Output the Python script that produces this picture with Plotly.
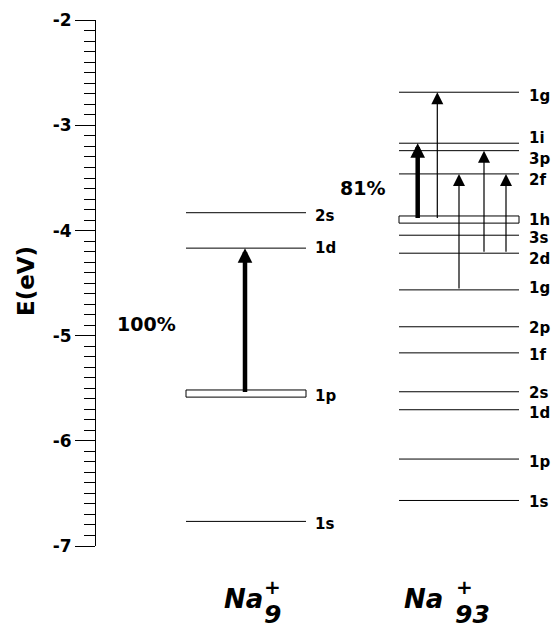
import plotly.graph_objects as go

# ---------------- data ----------------
na9_levels = ['1s', '1p', '1d', '2s']
na9_energy = [-6.766, -5.55, -4.167, -3.83]
na9_broad = ['1p']                      # drawn as a box (partly filled shell)
na9_transitions = [('1p', '1d', 'thick')]
na9_percent = '100%'

na93_levels = ['1s', '1p', '1d', '2s', '1f', '2p', '1g', '2d', '3s', '1h', '2f', '3p', '1i', '1g*']
na93_energy = [-6.567, -6.173, -5.704, -5.533, -5.163, -4.915, -4.564, -4.215, -4.044, -3.895,
               -3.461, -3.240, -3.169, -2.684]
na93_broad = ['1h']
na93_transitions = [('1h', '1i', 'thick'), ('1h', '1g*', 'thin'), ('1g', '2f', 'thin'),
                    ('2d', '3p', 'thin'), ('2d', '2f', 'thin')]
na93_percent = '81%'

y_ticks = [-7, -6, -5, -4, -3, -2]
y_ticktext = ['-7', '-6', '-5', '-4', '-3', '-2']
y_title = 'E(eV)'

# ---------------- layout constants ----------------
W, H = 552, 624
AXIS_X = 96
FONT = 'DejaVu Sans'
col9 = dict(x0=186, x1=306, lab=313, arrows=[245])
col93 = dict(x0=399, x1=519, lab=527, arrows=[417.7, 437.3, 459, 484, 506])
label_nudge9 = [3, 2, 0, 3]                       # px, positive = down
label_nudge93 = [2, 3, 3, 1, 2, 1, -2, 6, 3, 0, 6, 8, -5, 4]
BOX_HALF = 0.034

fig = go.Figure()


def add_column(levels, energy, broad, col, nudges):
    lx, ly = [], []
    for name, e in zip(levels, energy):
        if name in broad:
            fig.add_trace(go.Scatter(
                x=[col['x0'], col['x1'], col['x1'], col['x0'], col['x0']],
                y=[e - BOX_HALF, e - BOX_HALF, e + BOX_HALF, e + BOX_HALF, e - BOX_HALF],
                mode='lines', fill='toself', fillcolor='white',
                line=dict(color='black', width=1), hoverinfo='skip', showlegend=False))
        else:
            lx += [col['x0'], col['x1'], None]
            ly += [e, e, None]
    fig.add_trace(go.Scatter(x=lx, y=ly, mode='lines', line=dict(color='black', width=1),
                             hoverinfo='skip', showlegend=False))
    for name, e, n in zip(levels, energy, nudges):
        fig.add_annotation(x=col['lab'], y=e, xref='x', yref='y', text=name.rstrip('*'),
                           showarrow=False, xanchor='left', yanchor='middle', yshift=-n,
                           font=dict(family=FONT, size=15, color='black', weight='bold'))


def add_arrows(levels, energy, transitions, col):
    lookup = dict(zip(levels, energy))
    for (a, b, kind), x in zip(transitions, col['arrows']):
        thick = kind == 'thick'
        fig.add_annotation(x=x, y=lookup[b], ax=x, ay=lookup[a], xref='x', yref='y',
                           axref='x', ayref='y', text='', showarrow=True,
                           arrowhead=2, arrowwidth=4.5 if thick else 1.2,
                           arrowsize=0.65 if thick else 2.0, arrowcolor='black', standoff=0)


add_column(na9_levels, na9_energy, na9_broad, col9, label_nudge9)
add_column(na93_levels, na93_energy, na93_broad, col93, label_nudge93)
add_arrows(na9_levels, na9_energy, na9_transitions, col9)
add_arrows(na93_levels, na93_energy, na93_transitions, col93)


def paper_text(text, px, py, font, angle=0):
    fig.add_annotation(x=px / W, y=1 - py / H, xref='paper', yref='paper', text=text,
                       xanchor='center', yanchor='middle', textangle=angle,
                       showarrow=False, font=font)


# percent labels
pf = dict(family=FONT, size=19, color='black', weight='bold')
paper_text(na9_percent, 146, 324, pf)
paper_text(na93_percent, 362, 188, pf)

# axis title
paper_text(y_title, 26, 281, dict(family=FONT, size=23, color='black', weight='bold'), angle=-90)

# cluster names (Na, + and subscript stacked)
for text, px, py, size in [('Na', 243, 599, 26), ('+', 272.5, 587, 20), ('9', 272.5, 614, 25),
                           ('Na', 423, 599, 26), ('+', 464.5, 587, 20), ('93', 472.5, 614, 25)]:
    paper_text(text, px, py, dict(family=FONT, size=size, color='black', weight='bold',
                                  style='italic'))

fig.update_layout(
    template='none',
    width=W, height=H, margin=dict(l=0, r=0, t=0, b=0, autoexpand=False),
    paper_bgcolor='white', plot_bgcolor='white',
    xaxis=dict(domain=[AXIS_X / W, 1], range=[AXIS_X, W], visible=False, fixedrange=True,
               automargin=False),
    yaxis=dict(domain=[1 - 546 / H, 1 - 20.3 / H], range=[-7, -2], showgrid=False,
               zeroline=False, showline=True, linecolor='black', linewidth=1,
               automargin=False,
               ticks='outside', ticklen=20, tickwidth=1, tickcolor='black',
               tickmode='array', tickvals=y_ticks, ticktext=y_ticktext,
               tickfont=dict(family=FONT, size=17, color='black', weight='bold'),
               minor=dict(ticks='outside', ticklen=11, tickwidth=1, tickcolor='black',
                          tickmode='linear', tick0=-7, dtick=0.1, showgrid=False),
               fixedrange=True),
    showlegend=False,
)

fig.write_html('out.html', config=dict(displayModeBar=False),
               post_script="document.body.style.margin='0';"
                           "document.documentElement.style.overflow='hidden';")
